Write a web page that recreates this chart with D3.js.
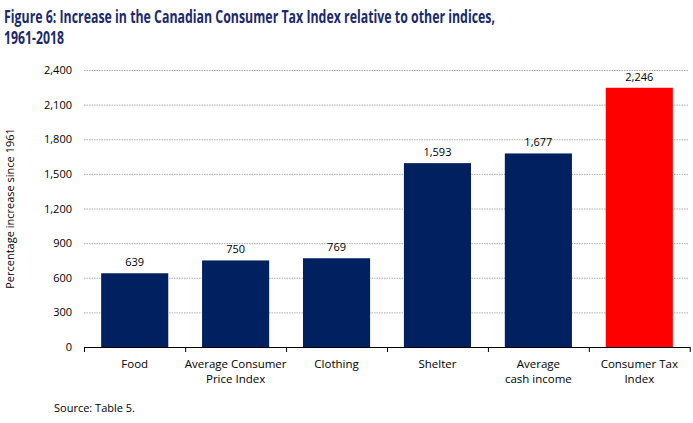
<!DOCTYPE html>
<html>
<head>
<meta charset="utf-8">
<script src="https://cdn.jsdelivr.net/npm/d3@7"></script>
<style>
  body { margin: 0; background: #fff; }
  svg text { font-family: "Open Sans", "DejaVu Sans", sans-serif; }
</style>
</head>
<body>
<div id="chart"></div>
<script>
// data
var categories = ["Food", "Average Consumer|Price Index", "Clothing", "Shelter", "Average|cash income", "Consumer Tax|Index"];
var values = [639, 750, 769, 1593, 1677, 2246];
var yTicks = [0, 300, 600, 900, 1200, 1500, 1800, 2100, 2400];

var W = 693, H = 423;
var m = {left: 84, right: 3, top: 70, bottom: 76};

var svg = d3.select("#chart").append("svg")
  .attr("width", W).attr("height", H);

// title (condensed look via textLength, no narrow font here)
var tstyle = function(t){
  t.attr("fill", "#1b2a6b")
    .style("font-family", "'Open Sans', 'DejaVu Sans', sans-serif")
    .style("font-weight", "bold")
    .style("font-size", "18px")
    .attr("lengthAdjust", "spacingAndGlyphs");
};
svg.append("text").attr("x", 4).attr("y", 23).call(tstyle)
  .attr("textLength", 491)
  .text("Figure 6: Increase in the Canadian Consumer Tax Index relative to other indices,");
svg.append("text").attr("x", 4).attr("y", 44).call(tstyle)
  .attr("textLength", 60)
  .text("1961-2018");

var x = d3.scaleBand()
  .domain(categories)
  .range([m.left, W - m.right])
  .paddingInner(0.335).paddingOuter(0.17);

var y = d3.scaleLinear()
  .domain([0, 2400])
  .range([H - m.bottom, m.top]);

// gridlines
svg.append("g").selectAll("line")
  .data(yTicks.filter(function(d){ return d > 0; }))
  .enter().append("line")
  .attr("x1", m.left).attr("x2", W - 5)
  .attr("y1", function(d){ return y(d) + 0.5; })
  .attr("y2", function(d){ return y(d) + 0.5; })
  .attr("stroke", "#9a9a9a")
  .attr("stroke-width", 0.8)
  .attr("stroke-dasharray", "1.5,1");

// y axis labels
var yAxis = d3.axisLeft(y).tickValues(yTicks).tickSize(0).tickPadding(12)
  .tickFormat(d3.format(","));
var gy = svg.append("g").attr("transform", "translate(" + m.left + ",0)").call(yAxis);
gy.select(".domain").remove();
gy.selectAll("text").style("font-size", "11px").attr("fill", "#000");

// bars
svg.append("g").selectAll("rect")
  .data(values)
  .enter().append("rect")
  .attr("x", function(d, i){ return x(categories[i]); })
  .attr("width", x.bandwidth())
  .attr("y", function(d){ return y(d); })
  .attr("height", function(d){ return y(0) - y(d); })
  .attr("fill", function(d, i){ return i == 5 ? "#ff0000" : "#002060"; });

// value labels
svg.append("g").selectAll("text")
  .data(values)
  .enter().append("text")
  .attr("x", function(d, i){ return x(categories[i]) + x.bandwidth() / 2; })
  .attr("y", function(d){ return y(d) - 7; })
  .attr("text-anchor", "middle")
  .style("font-size", "11px")
  .text(function(d){ return d3.format(",")(d); });

// x axis
var step = x.step();
var bounds = d3.range(categories.length + 1).map(function(i){
  return i == 0 ? m.left : x(categories[i - 1]) + x.bandwidth() + step * x.paddingInner() / 2;
});
var gx = svg.append("g");
gx.append("line")
  .attr("x1", m.left).attr("x2", W - 3)
  .attr("y1", y(0) + 0.5).attr("y2", y(0) + 0.5)
  .attr("stroke", "#000").attr("stroke-width", 1);
gx.selectAll("line.tick")
  .data(bounds)
  .enter().append("line").attr("class", "tick")
  .attr("x1", function(d){ return Math.min(d, W - 3) + 0.5; })
  .attr("x2", function(d){ return Math.min(d, W - 3) + 0.5; })
  .attr("y1", y(0)).attr("y2", y(0) + 5)
  .attr("stroke", "#000");

var lab = gx.selectAll("text.cat")
  .data(categories)
  .enter().append("text").attr("class", "cat")
  .attr("text-anchor", "middle")
  .style("font-size", "11.5px")
  .attr("transform", function(d){ return "translate(" + (x(d) + x.bandwidth() / 2) + "," + (y(0) + 21) + ")"; });
lab.selectAll("tspan")
  .data(function(d){ return d.split("|"); })
  .enter().append("tspan")
  .attr("x", 0)
  .attr("dy", function(d, i){ return i == 0 ? 0 : 15; })
  .text(function(d){ return d; });

// y title
svg.append("text")
  .attr("transform", "translate(14," + ((y(0) + y(2400)) / 2) + ") rotate(-90)")
  .attr("text-anchor", "middle")
  .style("font-size", "11px")
  .text("Percentage increase since 1961");

// source
svg.append("text")
  .attr("x", 54).attr("y", 412)
  .style("font-size", "11px")
  .text("Source: Table 5.");
</script>
</body>
</html>
